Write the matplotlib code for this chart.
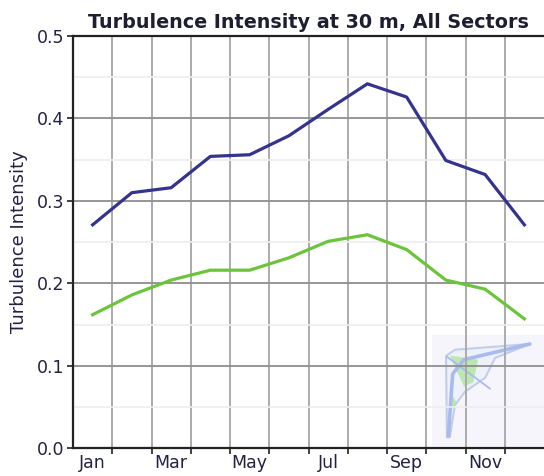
import matplotlib
matplotlib.use("Agg")
import matplotlib.pyplot as plt
from matplotlib.patches import Polygon, Rectangle
from matplotlib.ticker import FixedLocator, NullFormatter
import numpy as np

# ---- data ----
months = ["Jan", "Feb", "Mar", "Apr", "May", "Jun",
          "Jul", "Aug", "Sep", "Oct", "Nov", "Dec"]
ti_high = [0.271, 0.310, 0.316, 0.354, 0.356, 0.379,
           0.411, 0.442, 0.426, 0.349, 0.332, 0.271]
ti_low = [0.162, 0.186, 0.204, 0.216, 0.216, 0.231,
          0.251, 0.259, 0.241, 0.204, 0.193, 0.157]
shown_labels = ["Jan", "Mar", "May", "Jul", "Sep", "Nov"]
y_ticks = [0.0, 0.1, 0.2, 0.3, 0.4, 0.5]

W, H = 544, 476
fig = plt.figure(figsize=(W / 100, H / 100), dpi=100)
ax = fig.add_axes([73 / W, 1 - 448.3 / H, (W - 73) / W, (448.3 - 36) / H])

x = np.arange(1, len(months) + 1)
ax.set_xlim(0.5, 12.5)
ax.set_ylim(0, 0.5)

# grid
ax.yaxis.set_minor_locator(FixedLocator([0.05, 0.15, 0.25, 0.35, 0.45]))
ax.set_yticks(y_ticks)
ax.set_yticklabels([f"{v:.1f}" for v in y_ticks])
ax.grid(True, which="minor", axis="y", color="#ededed", lw=1.2, zorder=0)
ax.grid(True, which="major", axis="y", color="#8e8e8e", lw=1.3, zorder=0)

bounds = np.arange(1.5, 12.0, 1.0)
ax.set_xticks(bounds)
ax.xaxis.set_major_formatter(NullFormatter())
ax.grid(True, which="major", axis="x", color="#ababab", lw=1.4, zorder=0)
label_pos = [months.index(m) + 1 for m in shown_labels]
ax.set_xticks(label_pos, minor=True)
ax.set_xticklabels(shown_labels, minor=True)

txt_col = "#222244"
ax.tick_params(axis="x", which="major", length=4, width=1.3, color="#333333")
ax.tick_params(axis="x", which="minor", length=0, pad=4, labelsize=12.5,
               labelcolor=txt_col)
ax.tick_params(axis="y", which="major", length=4, width=1.3, color="#333333",
               labelsize=12.5, labelcolor=txt_col, pad=2)
ax.tick_params(axis="y", which="minor", length=0)

for s in ["left", "bottom", "top"]:
    ax.spines[s].set_color("#222222")
    ax.spines[s].set_linewidth(1.6)
ax.spines["right"].set_visible(False)

# logo watermark (decoration)
ax.add_patch(Rectangle((0.762, 0.005), 0.238, 0.27, transform=ax.transAxes,
                       facecolor="#f6f5fb", edgecolor="none", zorder=1))
kite = [(0.794, 0.027), (0.792, 0.224), (0.811, 0.239), (0.970, 0.253),
        (0.896, 0.219), (0.875, 0.171), (0.832, 0.137), (0.811, 0.105),
        (0.800, 0.027)]
ax.add_patch(Polygon(kite, closed=True, transform=ax.transAxes,
                     facecolor="#eef2f8", edgecolor="#c2cdea", lw=1.5,
                     zorder=1))
ax.add_patch(Polygon([(0.80, 0.225), (0.86, 0.215), (0.85, 0.16),
                      (0.83, 0.15)], closed=True,
                     transform=ax.transAxes, facecolor="#b2e6a6",
                     edgecolor="none", alpha=0.85, zorder=1))
ax.add_patch(Polygon([(0.80, 0.14), (0.815, 0.11), (0.80, 0.09)], closed=True,
                     transform=ax.transAxes, facecolor="#b2e6a6",
                     edgecolor="none", alpha=0.85, zorder=1))
ax.plot([0.797, 0.806, 0.83, 0.97], [0.03, 0.18, 0.215, 0.253],
        transform=ax.transAxes, color="#a9bbee", lw=2.6, zorder=1,
        solid_capstyle="round")
ax.plot([0.794, 0.885], [0.222, 0.145], transform=ax.transAxes,
        color="#a9bbee", lw=1.3, zorder=1)

ax.plot(x, ti_high, color="#34338d", lw=2.3, zorder=3)
ax.plot(x, ti_low, color="#6cc43a", lw=2.3, zorder=3)

fig.text(308 / W, 1 - 22 / H, "Turbulence Intensity at 30 m, All Sectors",
         ha="center", va="center", fontsize=13.8, fontweight="bold",
         color="#1e1e33")
fig.text(19 / W, 1 - 242 / H, "Turbulence Intensity", rotation=90,
         ha="center", va="center", fontsize=13, color=txt_col)

fig.savefig("out.png", dpi=100)
